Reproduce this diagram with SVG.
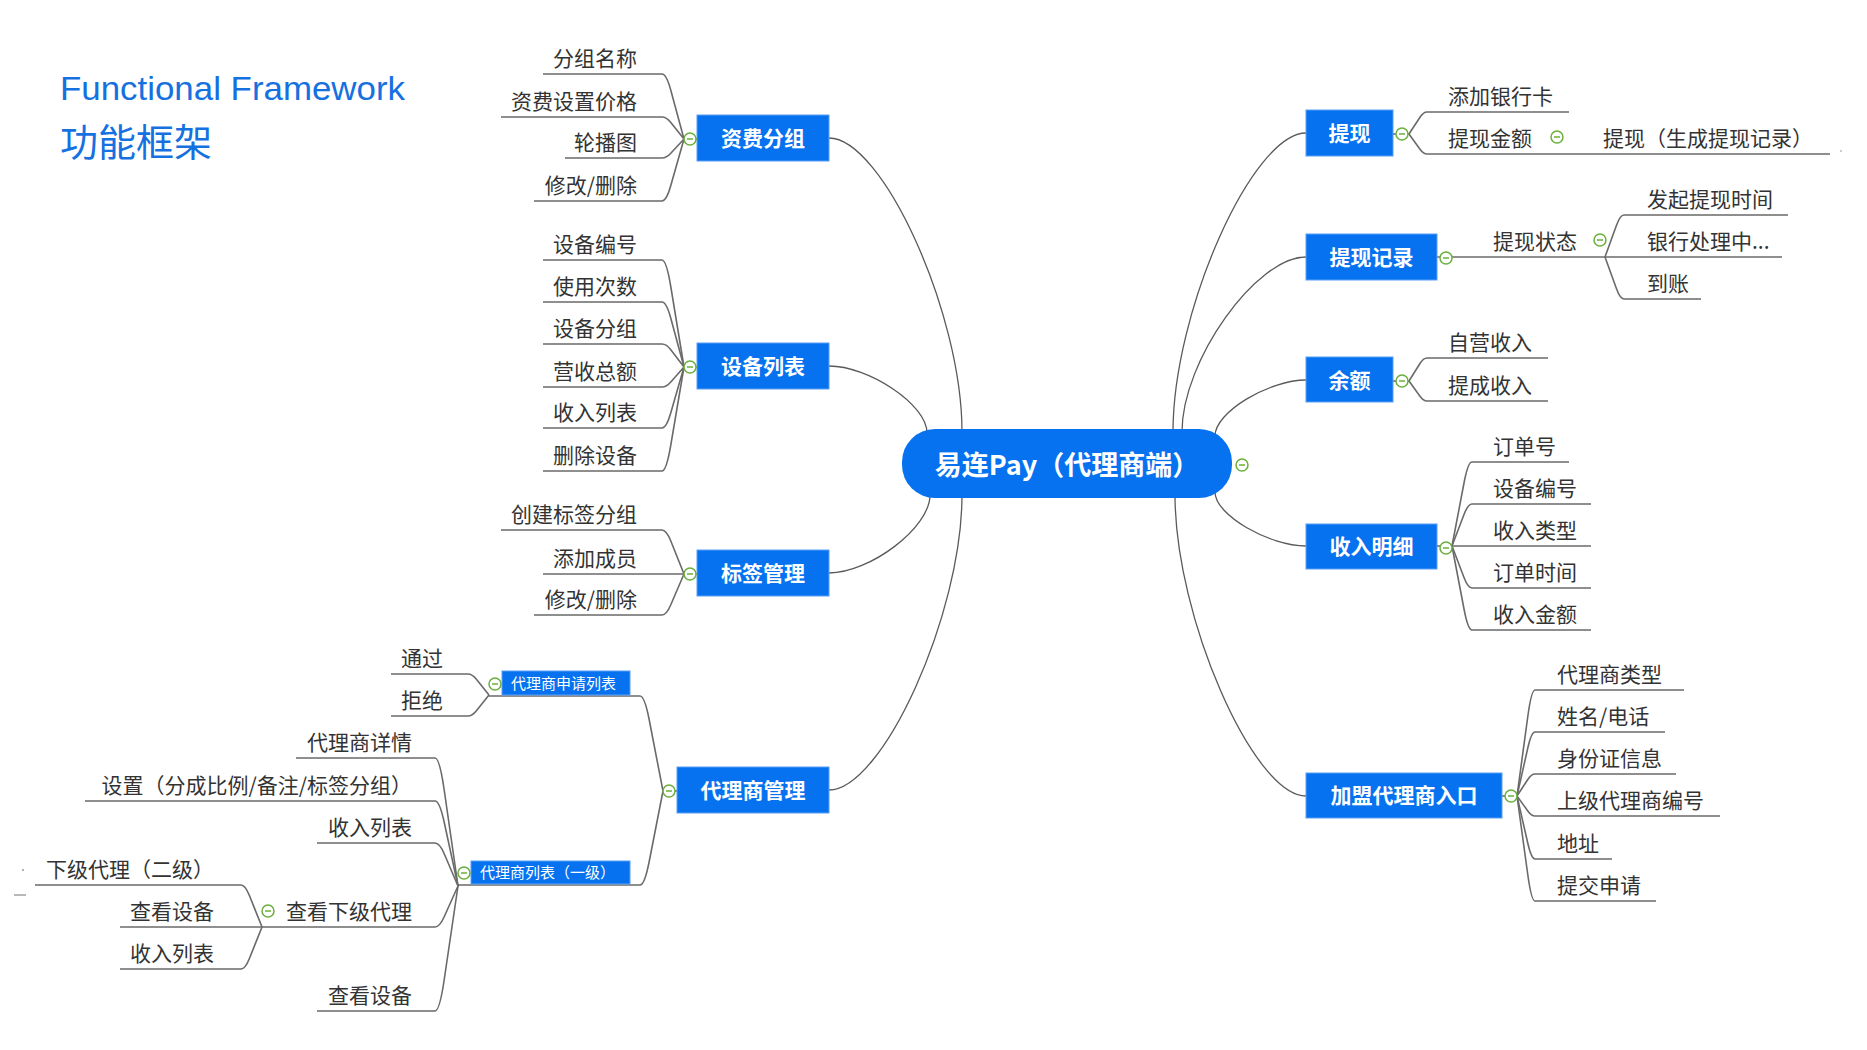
<svg xmlns="http://www.w3.org/2000/svg" xmlns:xlink="http://www.w3.org/1999/xlink" width="1867" height="1050" viewBox="0 0 1867 1050">
<style>
.box{fill:#0672f0;stroke:#5a9ef5;stroke-width:1}
.bt{font-family:"Noto Sans CJK SC","Noto Sans",sans-serif;font-weight:bold;font-size:21px;fill:#fff;text-anchor:middle}
.st{font-family:"Noto Sans CJK SC","Noto Sans",sans-serif;font-size:15px;fill:#fff}
.t{font-family:"Noto Sans CJK SC","Noto Sans",sans-serif;font-size:21px;fill:#333}
.e{text-anchor:end}
.ul{fill:none;stroke:#6a6a6a;stroke-width:1.6}
.cn{fill:none;stroke:#5a5a5a;stroke-width:1.3}
.tc{fill:#fff;stroke:#6ab03c;stroke-width:1.5}
.tm{stroke:#6ab03c;stroke-width:1.5}
</style>
<defs>
<g id="tog"><circle class="tc" r="6"/><line class="tm" x1="-3" y1="0" x2="3" y2="0"/></g>
</defs>
<rect width="1867" height="1050" fill="#fff"/>
<g id="title">
<text x="60" y="100" font-family="Liberation Sans, Arial, sans-serif" font-size="33" fill="#1570e0" textLength="345" lengthAdjust="spacingAndGlyphs">Functional Framework</text>
<text x="60" y="156" font-family="Noto Sans CJK SC, sans-serif" font-size="38" fill="#1570e0">功能框架</text>
</g>
<g id="connectors">
<!-- main branches -->
<path class="cn" d="M829,138 C882.2,138 962,312.6 962,432"/>
<path class="cn" d="M829,366 C868.2,366 927,404.4 927,433"/>
<path class="cn" d="M829,573 C869.4,573 930,528 930,495"/>
<path class="cn" d="M829,790 C882.2,790 962,614.8 962,495"/>
<path class="cn" d="M1306,133 C1252.8,133 1173,310.6 1173,432"/>
<path class="cn" d="M1306,257 C1256.4,257 1182,360.2 1182,432"/>
<path class="cn" d="M1306,380 C1269.6,380 1215,411.8 1215,436"/>
<path class="cn" d="M1306,546 C1269.6,546 1215,515.4 1215,492"/>
<path class="cn" d="M1306,796 C1253.6,796 1175,617.2 1175,495"/>
<!-- 资费分组 -->
<path class="ul" d="M697,139 H684"/>
<path class="ul" d="M543,74 H662 Q666.4,74 670.8,90.25 L684,139"/>
<path class="ul" d="M501,117 H662 Q666.4,117 670.8,122.5 L684,139"/>
<path class="ul" d="M565,158 H662 Q666.4,158 670.8,153.25 L684,139"/>
<path class="ul" d="M534,201 H662 Q666.4,201 670.8,185.5 L684,139"/>
<!-- 设备列表 -->
<path class="ul" d="M697,367 H684"/>
<path class="ul" d="M543,260 H662 Q666.4,260 670.8,286.75 L684,367"/>
<path class="ul" d="M543,302 H662 Q666.4,302 670.8,318.25 L684,367"/>
<path class="ul" d="M543,344 H662 Q666.4,344 670.8,349.75 L684,367"/>
<path class="ul" d="M543,387 H662 Q666.4,387 670.8,382 L684,367"/>
<path class="ul" d="M543,428 H662 Q666.4,428 670.8,412.75 L684,367"/>
<path class="ul" d="M543,471 H662 Q666.4,471 670.8,445 L684,367"/>
<!-- 标签管理 -->
<path class="ul" d="M697,574 H684"/>
<path class="ul" d="M501,530 H662 Q666.4,530 670.8,541 L684,574"/>
<path class="ul" d="M543,574 H684"/>
<path class="ul" d="M534,615 H662 Q666.4,615 670.8,604.75 L684,574"/>
<!-- 代理商管理 -->
<path class="ul" d="M677,791 H663"/>
<path class="ul" d="M489,696 H640 Q644.6,696 649.2,719.75 L663,791"/>
<path class="ul" d="M458,885 H640 Q644.6,885 649.2,861.5 L663,791"/>
<!-- 代理商申请列表 -->
<path class="ul" d="M391,674 H468 Q472.2,674 476.4,679.25 L489,695"/>
<path class="ul" d="M391,716 H468 Q472.2,716 476.4,710.75 L489,695"/>
<!-- 代理商列表（一级） -->
<path class="ul" d="M296,758 H435 Q439.6,758 444.2,790 L458,886"/>
<path class="ul" d="M85,801 H435 Q439.6,801 444.2,822.25 L458,886"/>
<path class="ul" d="M317,843 H435 Q439.6,843 444.2,853.75 L458,886"/>
<path class="ul" d="M262,927 H435 Q439.6,927 444.2,916.75 L458,886"/>
<path class="ul" d="M317,1011 H435 Q439.6,1011 444.2,979.75 L458,886"/>
<!-- 查看下级代理 -->
<path class="ul" d="M35,885 H241 Q245.2,885 249.4,895.5 L262,927"/>
<path class="ul" d="M120,927 H262"/>
<path class="ul" d="M120,969 H241 Q245.2,969 249.4,958.5 L262,927"/>
<!-- 提现 -->
<path class="ul" d="M1393,134 H1409"/>
<path class="ul" d="M1569,112 H1427 Q1423.4,112 1419.8,117.5 L1409,134"/>
<path class="ul" d="M1830,154 H1427 Q1423.4,154 1419.8,149 L1409,134"/>
<!-- 提现记录 -->
<path class="ul" d="M1437,257 H1605"/>
<path class="ul" d="M1788,215 H1624 Q1620.2,215 1616.4,225.5 L1605,257"/>
<path class="ul" d="M1782,257 H1605"/>
<path class="ul" d="M1701,299 H1624 Q1620.2,299 1616.4,288.5 L1605,257"/>
<!-- 余额 -->
<path class="ul" d="M1393,381 H1409"/>
<path class="ul" d="M1548,358 H1427 Q1423.4,358 1419.8,363.75 L1409,381"/>
<path class="ul" d="M1548,401 H1427 Q1423.4,401 1419.8,396 L1409,381"/>
<!-- 收入明细 -->
<path class="ul" d="M1437,546 H1452"/>
<path class="ul" d="M1569,462 H1472 Q1468,462 1464,483 L1452,546"/>
<path class="ul" d="M1591,504 H1472 Q1468,504 1464,514.5 L1452,546"/>
<path class="ul" d="M1591,546 H1452"/>
<path class="ul" d="M1591,588 H1472 Q1468,588 1464,577.5 L1452,546"/>
<path class="ul" d="M1591,630 H1472 Q1468,630 1464,609 L1452,546"/>
<!-- 加盟代理商入口 -->
<path class="ul" d="M1502,796 H1517"/>
<path class="ul" d="M1684,690 H1535 Q1531.4,690 1527.8,716.5 L1517,796"/>
<path class="ul" d="M1665,732 H1535 Q1531.4,732 1527.8,748 L1517,796"/>
<path class="ul" d="M1676,774 H1535 Q1531.4,774 1527.8,779.5 L1517,796"/>
<path class="ul" d="M1720,816 H1535 Q1531.4,816 1527.8,811 L1517,796"/>
<path class="ul" d="M1612,859 H1535 Q1531.4,859 1527.8,843.25 L1517,796"/>
<path class="ul" d="M1656,901 H1535 Q1531.4,901 1527.8,874.75 L1517,796"/>
</g>
<g id="center">
<rect x="902" y="429" width="330" height="69" rx="33" fill="#0672f0"/>
<text class="bt" x="1067" y="475" style="font-size:27px">易连Pay（代理商端）</text>
<use xlink:href="#tog" x="1242" y="465"/>
</g>
<g id="n-zifei">
<rect class="box" x="697" y="115" width="132" height="46"/>
<text class="bt" x="763" y="146">资费分组</text>
<use xlink:href="#tog" x="690" y="139"/>
<text class="t e" x="637" y="66">分组名称</text>
<text class="t e" x="637" y="109">资费设置价格</text>
<text class="t e" x="637" y="150">轮播图</text>
<text class="t e" x="637" y="193">修改/删除</text>
</g>
<g id="n-shebei">
<rect class="box" x="697" y="343" width="132" height="46"/>
<text class="bt" x="763" y="374">设备列表</text>
<use xlink:href="#tog" x="690" y="367"/>
<text class="t e" x="637" y="252">设备编号</text>
<text class="t e" x="637" y="294">使用次数</text>
<text class="t e" x="637" y="336">设备分组</text>
<text class="t e" x="637" y="379">营收总额</text>
<text class="t e" x="637" y="420">收入列表</text>
<text class="t e" x="637" y="463">删除设备</text>
</g>
<g id="n-biaoqian">
<rect class="box" x="697" y="550" width="132" height="46"/>
<text class="bt" x="763" y="581">标签管理</text>
<use xlink:href="#tog" x="690" y="574"/>
<text class="t e" x="637" y="522">创建标签分组</text>
<text class="t e" x="637" y="566">添加成员</text>
<text class="t e" x="637" y="607">修改/删除</text>
</g>
<g id="n-dailishang">
<rect class="box" x="677" y="767" width="152" height="46"/>
<text class="bt" x="753" y="798">代理商管理</text>
<use xlink:href="#tog" x="669" y="791"/>
</g>
<g id="n-shenqing">
<rect class="box" x="502" y="671" width="128" height="24"/>
<text class="st" x="511" y="689">代理商申请列表</text>
<use xlink:href="#tog" x="495" y="684"/>
<text class="t e" x="443" y="666">通过</text>
<text class="t e" x="443" y="708">拒绝</text>
</g>
<g id="n-liebiao">
<rect class="box" x="471" y="861" width="159" height="23"/>
<text class="st" x="480" y="878">代理商列表（一级）</text>
<use xlink:href="#tog" x="464" y="873"/>
<text class="t e" x="412" y="750">代理商详情</text>
<text class="t e" x="412" y="793">设置（分成比例/备注/标签分组）</text>
<text class="t e" x="412" y="835">收入列表</text>
<text class="t e" x="412" y="1003">查看设备</text>
</g>
<g id="n-xiaji">
<text class="t e" x="412" y="919">查看下级代理</text>
<use xlink:href="#tog" x="268" y="911"/>
<text class="t e" x="214" y="877">下级代理（二级）</text>
<text class="t e" x="214" y="919">查看设备</text>
<text class="t e" x="214" y="961">收入列表</text>
</g>
<g id="n-tixian">
<rect class="box" x="1306" y="110" width="87" height="46"/>
<text class="bt" x="1349.5" y="141">提现</text>
<use xlink:href="#tog" x="1402" y="134"/>
<text class="t" x="1448" y="104">添加银行卡</text>
<text class="t" x="1448" y="146">提现金额</text>
<use xlink:href="#tog" x="1557" y="137"/>
<text class="t" x="1603" y="146">提现（生成提现记录）</text>
</g>
<g id="n-jilu">
<rect class="box" x="1306" y="234" width="131" height="46"/>
<text class="bt" x="1371.5" y="265">提现记录</text>
<use xlink:href="#tog" x="1446" y="258"/>
<text class="t" x="1493" y="249">提现状态</text>
<use xlink:href="#tog" x="1600" y="240"/>
<text class="t" x="1647" y="207">发起提现时间</text>
<text class="t" x="1647" y="249">银行处理中...</text>
<text class="t" x="1647" y="291">到账</text>
</g>
<g id="n-yue">
<rect class="box" x="1306" y="357" width="87" height="45"/>
<text class="bt" x="1349.5" y="388">余额</text>
<use xlink:href="#tog" x="1402" y="381"/>
<text class="t" x="1448" y="350">自营收入</text>
<text class="t" x="1448" y="393">提成收入</text>
</g>
<g id="n-mingxi">
<rect class="box" x="1306" y="524" width="131" height="45"/>
<text class="bt" x="1371.5" y="554">收入明细</text>
<use xlink:href="#tog" x="1446" y="548"/>
<text class="t" x="1493" y="454">订单号</text>
<text class="t" x="1493" y="496">设备编号</text>
<text class="t" x="1493" y="538">收入类型</text>
<text class="t" x="1493" y="580">订单时间</text>
<text class="t" x="1493" y="622">收入金额</text>
</g>
<g id="n-jiameng">
<rect class="box" x="1306" y="773" width="196" height="45"/>
<text class="bt" x="1404" y="803">加盟代理商入口</text>
<use xlink:href="#tog" x="1511" y="796"/>
<text class="t" x="1557" y="682">代理商类型</text>
<text class="t" x="1557" y="724">姓名/电话</text>
<text class="t" x="1557" y="766">身份证信息</text>
<text class="t" x="1557" y="808">上级代理商编号</text>
<text class="t" x="1557" y="851">地址</text>
<text class="t" x="1557" y="893">提交申请</text>
</g>
<g id="marks">
<circle cx="23" cy="870" r="1" fill="#999"/>
<line x1="14" y1="895" x2="26" y2="895" stroke="#888" stroke-width="1.2"/>
<circle cx="1841" cy="151" r="1" fill="#bbb"/>
</g>
</svg>
